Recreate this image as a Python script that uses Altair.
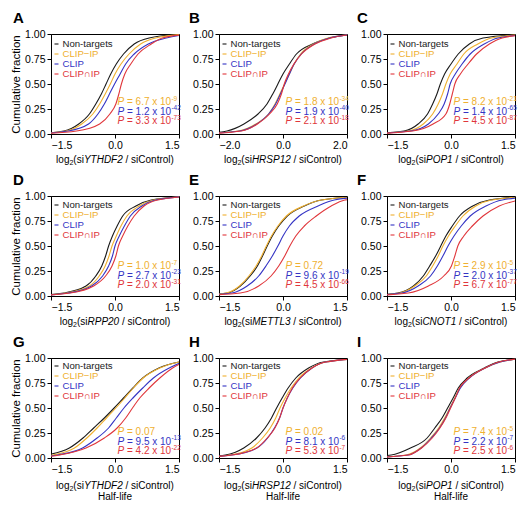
import altair as alt
import pandas as pd

# ---------------- data ----------------
SERIES = ["Non-targets", "CLIP\u2212IP", "CLIP", "CLIP\u2229IP"]
COLORS = ["#1a1a1a", "#efb030", "#3434c4", "#e0363b"]
LETTERS = ["A", "B", "C", "D", "E", "F", "G", "H", "I"]
GENES = ["YTHDF2", "HRSP12", "POP1", "RPP20", "METTL3", "CNOT1", "YTHDF2", "HRSP12", "POP1"]
HALF_LIFE = [False, False, False, False, False, False, True, True, True]
X_LIMITS = [1.5, 2.0, 1.5, 1.5, 1.5, 1.5, 1.5, 1.5, 1.5]
Y_TICKS = [0.0, 0.25, 0.5, 0.75, 1.0]

# cumulative fraction levels, and the log2 ratio read at each level per curve
Y_LEVELS = [0.0, 0.03, 0.1, 0.2, 0.3, 0.4, 0.5, 0.6, 0.7, 0.8, 0.9, 0.96, 1.0]

A_NON = [-1.9, -1.2, -0.85, -0.6, -0.45, -0.32, -0.21, -0.1, 0.03, 0.2, 0.45, 0.8, 1.6]
A_CLIPIP = [-1.9, -1.15, -0.78, -0.52, -0.36, -0.23, -0.11, 0.0, 0.14, 0.33, 0.6, 0.95, 1.7]
A_CLIP = [-1.9, -1.1, -0.62, -0.4, -0.25, -0.13, -0.01, 0.12, 0.25, 0.45, 0.78, 1.2, 1.8]
A_BOTH = [-1.9, -0.9, -0.36, -0.12, 0.02, 0.09, 0.15, 0.23, 0.37, 0.54, 0.85, 1.11, 1.8]

B_NON = [-2.6, -1.75, -1.22, -0.78, -0.5, -0.32, -0.16, 0.0, 0.2, 0.42, 0.92, 1.45, 2.3]
B_CLIPIP = [-2.6, -1.4, -0.85, -0.45, -0.25, -0.1, 0.05, 0.2, 0.35, 0.55, 0.95, 1.4, 2.3]
B_CLIP = [-2.6, -1.35, -0.82, -0.45, -0.23, -0.08, 0.06, 0.2, 0.35, 0.57, 0.98, 1.45, 2.3]
B_BOTH = [-2.6, -1.3, -0.8, -0.42, -0.18, -0.05, 0.04, 0.17, 0.34, 0.58, 1.0, 1.5, 2.3]

C_NON = [-2.0, -1.1, -0.77, -0.55, -0.43, -0.33, -0.25, -0.15, 0.0, 0.17, 0.43, 0.75, 1.8]
C_CLIPIP = [-2.0, -1.0, -0.65, -0.43, -0.3, -0.2, -0.12, -0.02, 0.14, 0.3, 0.63, 0.95, 1.9]
C_CLIP = [-2.0, -0.95, -0.53, -0.3, -0.16, -0.08, -0.02, 0.1, 0.26, 0.45, 0.78, 1.1, 1.9]
C_BOTH = [-2.0, -0.9, -0.42, -0.12, -0.03, 0.03, 0.09, 0.22, 0.4, 0.6, 0.9, 1.2, 1.9]

D_NON = [-2.0, -1.2, -0.68, -0.45, -0.31, -0.22, -0.15, -0.06, 0.05, 0.18, 0.49, 0.85, 1.8]
D_CLIPIP = [-2.0, -1.15, -0.6, -0.37, -0.23, -0.14, -0.07, 0.03, 0.14, 0.28, 0.57, 0.9, 1.8]
D_CLIP = [-2.0, -1.1, -0.55, -0.29, -0.15, -0.06, 0.0, 0.1, 0.22, 0.36, 0.63, 0.95, 1.8]
D_BOTH = [-2.0, -1.05, -0.5, -0.22, -0.07, 0.02, 0.08, 0.18, 0.3, 0.45, 0.68, 1.0, 1.8]

E_NON = [-2.2, -1.3, -1.0, -0.77, -0.6, -0.48, -0.37, -0.25, -0.1, 0.1, 0.5, 0.9, 2.0]
E_CLIPIP = [-2.2, -1.33, -1.02, -0.8, -0.63, -0.5, -0.39, -0.27, -0.12, 0.08, 0.48, 0.9, 2.0]
E_CLIP = [-2.2, -1.2, -0.84, -0.57, -0.4, -0.25, -0.12, 0.0, 0.15, 0.38, 0.82, 1.2, 2.2]
E_BOTH = [-2.2, -1.0, -0.57, -0.28, -0.1, 0.04, 0.16, 0.3, 0.5, 0.78, 1.13, 1.45, 2.4]

F_NON = [-2.1, -1.25, -0.88, -0.65, -0.5, -0.36, -0.24, -0.12, 0.03, 0.2, 0.51, 0.9, 2.0]
F_CLIPIP = [-2.1, -1.2, -0.85, -0.58, -0.43, -0.3, -0.19, -0.06, 0.1, 0.28, 0.58, 0.95, 2.0]
F_CLIP = [-2.1, -1.15, -0.77, -0.48, -0.32, -0.19, -0.07, 0.07, 0.24, 0.45, 0.82, 1.2, 2.2]
F_BOTH = [-2.1, -1.0, -0.53, -0.17, 0.01, 0.09, 0.16, 0.3, 0.5, 0.75, 1.13, 1.6, 2.4]

G_NON = [-2.1, -1.6, -1.07, -0.75, -0.5, -0.25, -0.02, 0.2, 0.42, 0.65, 1.03, 1.5, 2.5]
G_CLIPIP = [-2.1, -1.45, -0.95, -0.66, -0.42, -0.2, 0.02, 0.23, 0.43, 0.66, 1.05, 1.5, 2.5]
G_CLIP = [-2.0, -1.35, -0.76, -0.42, -0.15, 0.03, 0.21, 0.42, 0.65, 0.9, 1.27, 1.6, 2.6]
G_BOTH = [-2.0, -1.3, -0.68, -0.25, 0.05, 0.25, 0.41, 0.58, 0.8, 1.05, 1.35, 1.65, 2.6]

H_NON = [-2.2, -1.35, -0.92, -0.62, -0.42, -0.27, -0.15, -0.02, 0.12, 0.3, 0.6, 0.95, 2.0]
H_CLIPIP = [-2.2, -1.25, -0.73, -0.48, -0.3, -0.17, -0.07, 0.05, 0.19, 0.37, 0.67, 1.0, 2.0]
H_CLIP = [-2.2, -1.2, -0.61, -0.36, -0.2, -0.08, 0.0, 0.1, 0.23, 0.41, 0.68, 1.0, 2.0]
H_BOTH = [-2.2, -1.2, -0.62, -0.37, -0.19, -0.08, 0.0, 0.1, 0.22, 0.4, 0.68, 1.0, 2.0]

I_NON = [-2.5, -1.4, -0.95, -0.56, -0.38, -0.21, -0.08, 0.05, 0.17, 0.38, 0.78, 1.1, 1.8]
I_CLIPIP = [-2.0, -1.05, -0.72, -0.48, -0.29, -0.15, -0.03, 0.09, 0.21, 0.42, 0.8, 1.15, 1.8]
I_CLIP = [-2.0, -1.0, -0.7, -0.46, -0.27, -0.13, -0.02, 0.1, 0.22, 0.43, 0.8, 1.15, 1.8]
I_BOTH = [-2.0, -1.0, -0.69, -0.44, -0.26, -0.12, -0.01, 0.1, 0.2, 0.42, 0.8, 1.12, 1.8]

CURVES = [
    [A_NON, A_CLIPIP, A_CLIP, A_BOTH],
    [B_NON, B_CLIPIP, B_CLIP, B_BOTH],
    [C_NON, C_CLIPIP, C_CLIP, C_BOTH],
    [D_NON, D_CLIPIP, D_CLIP, D_BOTH],
    [E_NON, E_CLIPIP, E_CLIP, E_BOTH],
    [F_NON, F_CLIPIP, F_CLIP, F_BOTH],
    [G_NON, G_CLIPIP, G_CLIP, G_BOTH],
    [H_NON, H_CLIPIP, H_CLIP, H_BOTH],
    [I_NON, I_CLIPIP, I_CLIP, I_BOTH],
]

# P values (CLIP-IP, CLIP, CLIP∩IP): mantissa and exponent of 10
P_MANT = [
    ["6.7", "1.2", "3.3"], ["1.8", "1.9", "2.1"], ["8.2", "1.4", "4.5"],
    ["1.0", "2.7", "2.0"], ["0.72", "9.6", "4.5"], ["2.9", "2.0", "6.7"],
    ["0.07", "9.5", "4.2"], ["0.02", "8.1", "5.3"], ["7.4", "2.2", "2.5"],
]
P_EXP = [
    ["-9", "-42", "-73"], ["-34", "-40", "-18"], ["-21", "-65", "-87"],
    ["-7", "-23", "-31"], ["", "-19", "-66"], ["-5", "-37", "-77"],
    ["", "-13", "-22"], ["", "-6", "-7"], ["-5", "-7", "-6"],
]

# ---------------- layout / style ----------------
FONT = "Liberation Sans"
W, H = 128, 100
LEG_TOP = [10, 9, 8]
P_TOP = [68, 70, 74]

AW = {" ": 278, "(": 333, ")": 333, "/": 278, ".": 278, "-": 333, "=": 584}
for ch in "0123456789":
    AW[ch] = 556
AW.update({"a": 556, "b": 556, "c": 500, "d": 556, "e": 556, "f": 278, "g": 556, "h": 556,
           "i": 222, "j": 222, "k": 500, "l": 222, "m": 833, "n": 556, "o": 556, "p": 556,
           "q": 556, "r": 333, "s": 500, "t": 278, "u": 556, "v": 500, "w": 722, "x": 500,
           "y": 500, "z": 500, "A": 667, "B": 667, "C": 722, "D": 722, "E": 667, "F": 611,
           "G": 778, "H": 722, "I": 278, "J": 500, "K": 667, "L": 556, "M": 833, "N": 722,
           "O": 778, "P": 667, "Q": 778, "R": 722, "S": 667, "T": 611, "U": 722, "V": 667,
           "W": 944, "X": 667, "Y": 667, "Z": 611})


def tw(s, size):
    return sum(AW.get(c, 556) for c in s) * size / 1000.0


color_scale = alt.Scale(domain=SERIES, range=COLORS)
ONE = alt.Data(values=[{"a": 0}])


def panel(k):
    r, c = divmod(k, 3)
    lim = X_LIMITS[k]
    xs = alt.Scale(domain=[-lim, lim], nice=False, zero=False)
    ys = alt.Scale(domain=[0, 1], nice=False, zero=False)
    x_axis = alt.Axis(values=[-lim, 0, lim], format=".1f", title=None)
    y_axis = alt.Axis(values=Y_TICKS, format=".2f",
                      title="Cumulative fraction" if c == 0 else None)
    X = lambda: alt.X("x:Q", scale=xs, axis=x_axis)
    Y = lambda: alt.Y("y:Q", scale=ys, axis=y_axis)
    C = lambda: alt.Color("series:N", scale=color_scale, legend=None)

    rows = []
    for s, arr in zip(SERIES, CURVES[k]):
        for xv, yv in zip(arr, Y_LEVELS):
            rows.append({"series": s, "x": xv, "y": yv})
    df = pd.DataFrame(rows)
    layers = [alt.Chart(df).mark_line(clip=True, strokeWidth=1.1, interpolate="monotone")
              .encode(x=X(), y=Y(), color=C())]

    # in-plot legend
    leg = pd.DataFrame({"series": SERIES,
                        "y": [1 - (LEG_TOP[r] + 10 * i) / H for i in range(4)]})
    layers.append(alt.Chart(leg).mark_rule(strokeWidth=1.1)
                  .encode(x=alt.value(3.5), x2=alt.value(7.5), y=Y(), color=C()))
    layers.append(alt.Chart(leg).mark_text(align="left", baseline="middle", fontSize=9.6, font=FONT)
                  .encode(x=alt.value(11.5), y=Y(), text="series:N", color=C()))

    # P values: italic "P", then "= m x 10", then a raised exponent
    px = 66.5
    pdf = pd.DataFrame({
        "series": SERIES[1:],
        "y": [1 - (P_TOP[r] + 9.5 * i) / H for i in range(3)],
        "m": ["= " + m + (" x 10" if e else "") for m, e in zip(P_MANT[k], P_EXP[k])],
        "e": P_EXP[k],
    })
    layers.append(alt.Chart(pdf).mark_text(text="P", align="left", baseline="middle", fontSize=10,
                                           fontStyle="italic", font=FONT)
                  .encode(x=alt.value(px), y=Y(), color=C()))
    mx = px + tw("P ", 10)
    layers.append(alt.Chart(pdf).mark_text(align="left", baseline="middle", fontSize=10, font=FONT)
                  .encode(x=alt.value(mx), y=Y(), text="m:N", color=C()))
    edf = pdf[pdf["e"] != ""]
    layers.append(alt.Chart(edf).mark_text(align="left", baseline="middle", fontSize=6.5,
                                           dy=-3.5, font=FONT)
                  .encode(x=alt.value(mx + tw("= 6.7 x 10", 10) + 0.3), y=Y(), text="e:N",
                          color=C()))

    # x-axis title made of styled pieces (gap = leading space width)
    pieces = [("log", 10, "normal", 0, 0), ("2", 7, "normal", 3, 0), ("(si", 10, "normal", 0, 0),
              (GENES[k], 10, "italic", 0, 0), ("/ siControl)", 10, "normal", 0, tw(" ", 10))]
    total = sum(tw(t, s) + g for t, s, _, _, g in pieces)
    x0 = W / 2 - total / 2
    ty = H + 26 + (2 if r == 2 else 0)
    for t, s, st, dy, g in pieces:
        x0 += g
        layers.append(alt.Chart(ONE).mark_text(text=t, align="left", baseline="middle",
                                               fontSize=s, fontStyle=st, font=FONT, color="black")
                      .encode(x=alt.value(x0), y=alt.value(ty + dy)))
        x0 += tw(t, s)
    if HALF_LIFE[k]:
        layers.append(alt.Chart(ONE).mark_text(text="Half-life", align="center", baseline="middle",
                                               fontSize=10, font=FONT, color="black")
                      .encode(x=alt.value(W / 2), y=alt.value(ty + 11)))

    # panel letter
    layers.append(alt.Chart(ONE).mark_text(text=LETTERS[k], align="left", baseline="alphabetic",
                                           fontSize=15, fontWeight="bold", font=FONT, color="black")
                  .encode(x=alt.value(-38 if c == 0 else -30), y=alt.value(-11.5)))

    return alt.layer(*layers).properties(width=W, height=H)


chart = alt.concat(*[panel(k) for k in range(9)], columns=3,
                   spacing={"row": 62, "column": 40}, bounds="flush").properties(
    padding={"left": 2, "top": 2, "right": 2, "bottom": 2}
).configure_view(stroke="black", strokeWidth=1).configure_axis(
    grid=False, domainColor="black", tickColor="black", labelColor="black", tickSize=4,
    labelFontSize=10.5, labelFont=FONT, labelPadding=2, titleFont=FONT, titleFontSize=11.5,
    titleFontWeight="normal", titleColor="black", titlePadding=3
)

chart.save("out.html", embed_options={"renderer": "svg", "actions": False})
